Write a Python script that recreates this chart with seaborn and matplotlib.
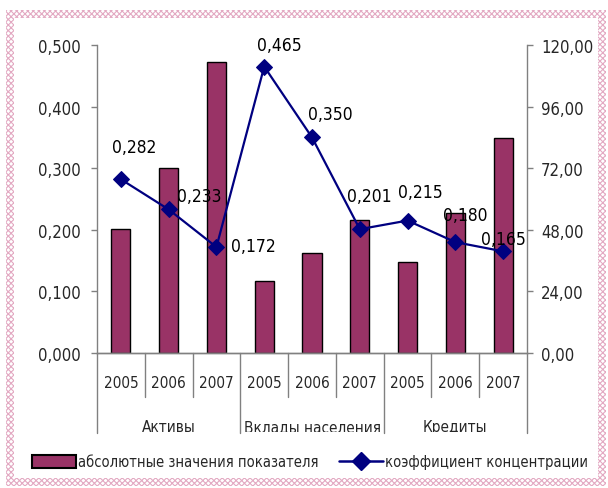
import matplotlib
matplotlib.use("Agg")
import matplotlib.pyplot as plt
import matplotlib.transforms as mtransforms
from matplotlib.patches import Rectangle, Patch
from matplotlib.lines import Line2D
import seaborn as sns
import pandas as pd

sns.set_style("white")
plt.rcParams['font.family'] = ['DejaVu Sans']
plt.rcParams['font.stretch'] = 'condensed'
plt.rcParams['hatch.linewidth'] = 0.8

# ---- data ----
groups = ["Активы", "Вклады населения", "Кредиты"]
years = ["2005", "2006", "2007"]
absolute_values = [48.3, 72.1, 113.5, 28.1, 39.0, 51.7, 35.6, 54.4, 83.9]
concentration = [0.282, 0.233, 0.172, 0.465, 0.350, 0.201, 0.215, 0.180, 0.165]
left_ticks = [0.0, 0.1, 0.2, 0.3, 0.4, 0.5]
right_ticks = [0, 24, 48, 72, 96, 120]
bar_label = "абсолютные значения показателя"
line_label = "коэффициент концентрации"

# label offsets (layout, in pixels)
label_offsets = [(13, 32), (31, 13), (37, 1), (15, 22), (18, 23),
                 (10, 33), (13, 29), (10, 27), (0, 12)]

n = len(absolute_values)
df = pd.DataFrame({"pos": list(range(n)),
                   "abs": absolute_values,
                   "coef": concentration})

W, H = 608, 489
fig = plt.figure(figsize=(W / 100, H / 100), dpi=100)
fig.patch.set_facecolor("white")

# decorative pink dotted frame (drawn first, behind everything)
pink = "#e3a9c2"
bands = [(6, 11, 600, 8),     # top
         (6, 479, 600, 8),    # bottom
         (6, 11, 8, 476),     # left
         (598, 11, 8, 476)]   # right
for (x0, y0, w, h) in bands:
    fig.patches.append(Rectangle((x0 / W, 1 - (y0 + h) / H), w / W, h / H,
                                 transform=fig.transFigure, facecolor="white",
                                 edgecolor=pink, hatch="xxxxxx", lw=0, zorder=-10))

L, R, B, T = 97, 527, 354, 46
ax = fig.add_axes([L / W, 1 - B / H, (R - L) / W, (B - T) / H])
ax2 = ax.twinx()

bar_color = "#993366"
line_color = "#000080"
axis_color = "#808080"
fs = 11
fs_lab = 12.5

sns.barplot(data=df, x="pos", y="abs", ax=ax2, native_scale=True,
            color=bar_color, edgecolor="black", linewidth=1.0, width=0.4,
            saturation=1)
sns.lineplot(data=df, x="pos", y="coef", ax=ax, color=line_color,
             marker="D", markersize=8, markeredgecolor=line_color,
             linewidth=1.6)

ax.set_zorder(ax2.get_zorder() + 1)
ax.patch.set_visible(False)

ax.set_xlim(-0.5, n - 0.5)
ax.set_ylim(0, 0.5)
ax2.set_ylim(0, 120)
ax.set_yticks(left_ticks)
ax.set_yticklabels([f"{v:.3f}".replace(".", ",") for v in left_ticks], fontsize=12)
ax2.set_yticks(right_ticks)
ax2.set_yticklabels([f"{v:.2f}".replace(".", ",") for v in right_ticks], fontsize=12)
ax.set_xticks([])
ax2.set_xticks([])
for a in (ax, ax2):
    a.set_xlabel("")
    a.set_ylabel("")
    for s in a.spines.values():
        s.set_color(axis_color)
        s.set_linewidth(1)
    a.spines["top"].set_visible(False)
ax.tick_params(axis="y", direction="out", length=4, color=axis_color, width=1, pad=8)
ax2.tick_params(axis="y", direction="out", length=4, color=axis_color, width=1, pad=6)
ax2.spines["left"].set_visible(False)
ax.spines["right"].set_visible(False)

# data labels
for i, v in enumerate(concentration):
    dx, dy = label_offsets[i]
    ax.annotate(f"{v:.3f}".replace(".", ","), (i, v), xytext=(dx, dy),
                textcoords="offset pixels", ha="center", va="center",
                fontsize=fs_lab, color="black", zorder=5)

# two-level category axis
trans = mtransforms.blended_transform_factory(ax.transData, ax.transAxes)
ph = (B - T)
for k in range(n + 1):
    xk = k - 0.5
    is_group = (k % 3 == 0)
    yend = -(434 - B) / ph if is_group else -(398 - B) / ph
    ax.add_line(Line2D([xk, xk], [0, yend], transform=trans, color=axis_color,
                       lw=1, clip_on=False))
for i in range(n):
    ax.text(i, -(384 - B) / ph, years[i % 3], transform=trans, ha="center",
            va="center", fontsize=fs)
clip_rect = Rectangle((0, (H - 433) / H), 1, 1, transform=fig.transFigure)
for g, name in enumerate(groups):
    t = ax.text(3 * g + 1, -(428 - B) / ph, name, transform=trans, ha="center",
                va="center", fontsize=fs)
    t.set_clip_path(clip_rect)
    t.set_clip_on(True)

# legend
handles = [Patch(facecolor=bar_color, edgecolor="black", linewidth=1.5),
           Line2D([], [], color=line_color, marker="D", markersize=9, linewidth=1.8)]
fig.legend(handles, [bar_label, line_label], loc="center left",
           bbox_to_anchor=(22 / W, 1 - 463 / H), ncol=2, frameon=False,
           fontsize=10.5, handlelength=3.0, handleheight=0.95, handletextpad=0.15,
           columnspacing=1.4, borderpad=0.2)

fig.savefig("out.png", dpi=100)
